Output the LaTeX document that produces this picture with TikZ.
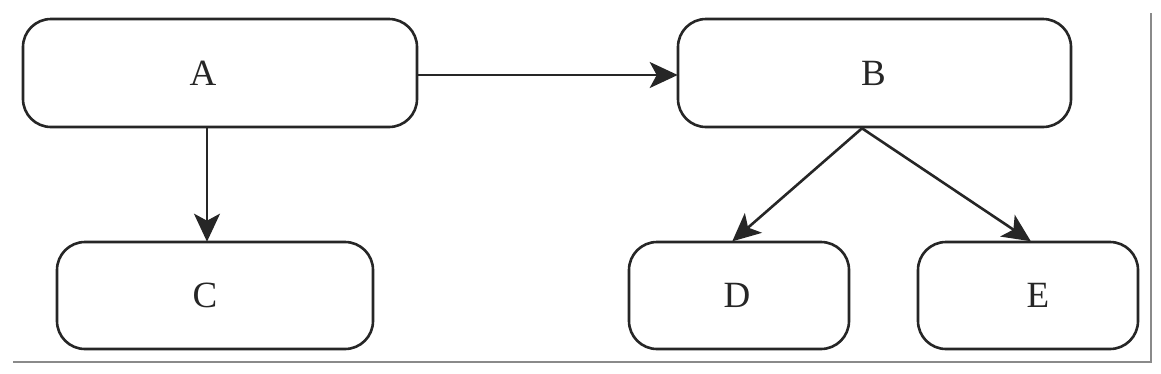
\documentclass[tikz,border=0pt]{standalone}
\usepackage{fontspec}
\setmainfont{Liberation Serif}
\usetikzlibrary{arrows.meta}
\definecolor{ink}{HTML}{262626}
\definecolor{shadowgray}{HTML}{8A8A8A}
\tikzset{
  box/.style={draw=ink, line width=2.6pt, rounded corners=28pt, fill=white, inner sep=0pt},
  lbl/.style={font=\fontsize{37}{40}\selectfont, text=ink, inner sep=0pt},
  conn/.style={draw=ink, line width=2.6pt, -{Stealth[length=28pt,width=26pt,inset=7pt]}, shorten >=-1pt}
}
\begin{document}
\begin{tikzpicture}[x=1pt,y=-1pt]
\useasboundingbox (0,0) rectangle (1161,373);
\draw[shadowgray, line width=2pt] (13,362) -- (1151,362) -- (1151,13);
\node[box, minimum width=394pt, minimum height=108pt] (A) at (220,73) {};
\node[box, minimum width=393pt, minimum height=108pt] (B) at (874.5,73) {};
\node[box, minimum width=316pt, minimum height=107pt] (C) at (215,295.5) {};
\node[box, minimum width=220pt, minimum height=107pt] (D) at (739,295.5) {};
\node[box, minimum width=220pt, minimum height=107pt] (E) at (1028,295.5) {};
\node[lbl] (Atext) at ([xshift=-17pt]A.center) {A};
\node[lbl] (Btext) at ([xshift=-1pt]B.center) {B};
\node[lbl] (Ctext) at ([xshift=-10pt]C.center) {C};
\node[lbl] (Dtext) at ([xshift=-2pt]D.center) {D};
\node[lbl] (Etext) at ([xshift=10pt]E.center) {E};
\draw[conn] ([yshift=-2pt]A.east) -- ([yshift=-2pt]B.west);
\draw[conn] ([xshift=-13pt]A.south) -- ([xshift=-8pt]C.north);
\draw[conn] ([xshift=-12.5pt]B.south) -- ([xshift=-6pt]D.north);
\draw[conn] ([xshift=-12.5pt]B.south) -- ([xshift=2pt]E.north);
\end{tikzpicture}
\end{document}
